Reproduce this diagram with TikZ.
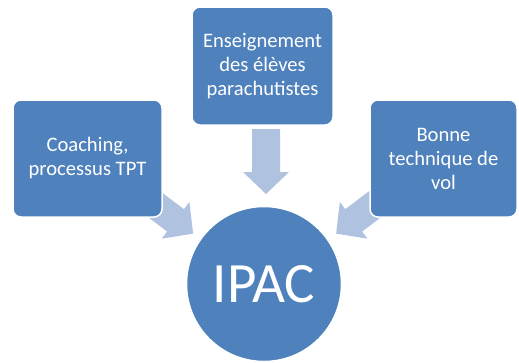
\documentclass[tikz,border=0pt]{standalone}
\usepackage{fontspec}
\setmainfont{Carlito}
\usetikzlibrary{calc}
\definecolor{boxblue}{HTML}{4F81BD}
\definecolor{arrowblue}{HTML}{AFC2E0}
\tikzset{
  box/.style={fill=boxblue, draw=white, line width=1.5pt, rounded corners=8pt,
    text=white, align=center, font=\fontsize{20.6}{24}\selectfont, inner sep=2pt},
  hub/.style={circle, fill=boxblue, draw=white, line width=1.5pt, text=white,
    font=\fontsize{57}{60}\selectfont, inner sep=0pt},
  blockarrow/.style={fill=arrowblue, draw=none}
}
\newcommand{\blockarrowpath}{(0,0) -- (-22,23) -- (-22,14) -- (-65,14) -- (-65,-14) -- (-22,-14) -- (-22,-23) -- cycle}
\begin{document}
\begin{tikzpicture}[x=1pt,y=1pt]
\useasboundingbox (0,0) rectangle (519,-362);
\path (264,-284) coordinate (hubc);
\path (87.5,-158.5) coordinate (Lc);
\path (262.5,-66) coordinate (Tc);
\path (443.5,-158.5) coordinate (Rc);
% arrow tips
\coordinate (tipL) at ($(hubc)!87pt!(Lc)$);
\coordinate (tipR) at ($(hubc)!88pt!(Rc)$);
\coordinate (tipT) at (266,-194);
\begin{scope}[shift={(tipL)}, rotate=-37]
  \fill[blockarrow] \blockarrowpath;
\end{scope}
\begin{scope}[shift={(tipR)}, rotate=-143]
  \fill[blockarrow] \blockarrowpath;
\end{scope}
\begin{scope}[shift={(tipT)}, rotate=-90]
  \fill[blockarrow] \blockarrowpath;
\end{scope}
% boxes
\node[box, minimum width=149pt, minimum height=117pt] (L) at (Lc) {Coaching,\\processus TPT};
\node[box, minimum width=141pt, minimum height=118pt] (T) at (Tc) {Enseignement\\des élèves\\parachutistes};
\node[box, minimum width=147pt, minimum height=117pt] (R) at (Rc) {Bonne\\technique de\\vol};
\node[hub, minimum size=155pt] (ipac) at (hubc) {IPAC};
\end{tikzpicture}
\end{document}
